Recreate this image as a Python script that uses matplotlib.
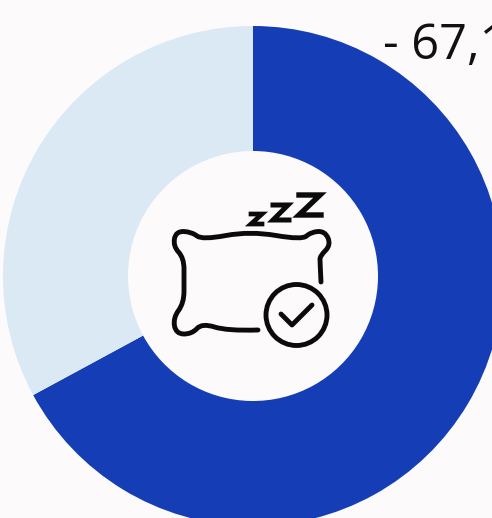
import matplotlib
matplotlib.use('Agg')
import matplotlib.pyplot as plt
from matplotlib.path import Path
from matplotlib.patches import PathPatch, Circle

# Data
values = [67.1, 32.9]
colors = ['#153DB6', '#DBE9F5']
label = '- 67,1'
bg = '#FCFAFB'

# Icon outlines, in pixels of the picture
pillow = [(321, 282), (320, 262), (320, 256), (331, 245), (325, 231), (311, 232), (302, 240),
          (250, 231), (202, 240), (192, 232), (176, 231), (173, 246), (184, 258),
          (184, 280), (184, 303), (173, 318), (176, 334), (192, 334), (202, 323), (227, 331),
          (258, 330)]
check = [(281, 314), (292, 325), (312, 305)]
zzz = [[(299, 195), (320, 195), (299, 215), (321, 215)],
       [(273, 205), (288, 205), (273, 220), (289, 220)],
       [(251, 214), (262, 214), (251, 224), (262, 224)]]


def smooth_path(pts):
    # quadratic pieces running through the midpoints
    verts = [pts[0]]
    codes = [Path.MOVETO]
    for i in range(1, len(pts) - 1):
        nx = pts[i + 1] if i == len(pts) - 2 else ((pts[i][0] + pts[i + 1][0]) / 2, (pts[i][1] + pts[i + 1][1]) / 2)
        verts += [pts[i], nx]
        codes += [Path.CURVE3, Path.CURVE3]
    return Path(verts, codes)


fig = plt.figure(figsize=(4.92, 5.18), dpi=100, facecolor=bg)

# Donut
ax = fig.add_axes([3 / 492, -8 / 518, 500 / 492, 500 / 518])
ax.pie(values, colors=colors, startangle=90, counterclock=False, radius=1,
       wedgeprops={'width': 0.5, 'linewidth': 0})
ax.set_xlim(-1, 1)
ax.set_ylim(-1, 1)
ax.axis('off')

# Overlay in pixel coordinates
ov = fig.add_axes([0, 0, 1, 1])
ov.set_xlim(0, 492)
ov.set_ylim(518, 0)
ov.axis('off')
ov.patch.set_alpha(0)

lw = 3.5
ink = '#0B0B0B'
ov.add_patch(PathPatch(smooth_path(pillow), fill=False, ec=ink, lw=lw, capstyle='round', joinstyle='round'))
ov.add_patch(Circle((296.5, 315), 30.5, fill=False, ec=ink, lw=lw))
ov.plot(*zip(*check), color=ink, lw=lw, solid_capstyle='round', solid_joinstyle='round')
for z, w in zip(zzz, [3.9, 3.6, 3.4]):
    ov.plot(*zip(*z), color=ink, lw=w, solid_capstyle='projecting', solid_joinstyle='miter')

ov.text(383, 59, label, fontsize=35, family='Open Sans', color='#111111', ha='left', va='baseline')

fig.savefig('out.png', dpi=100, facecolor=bg)
